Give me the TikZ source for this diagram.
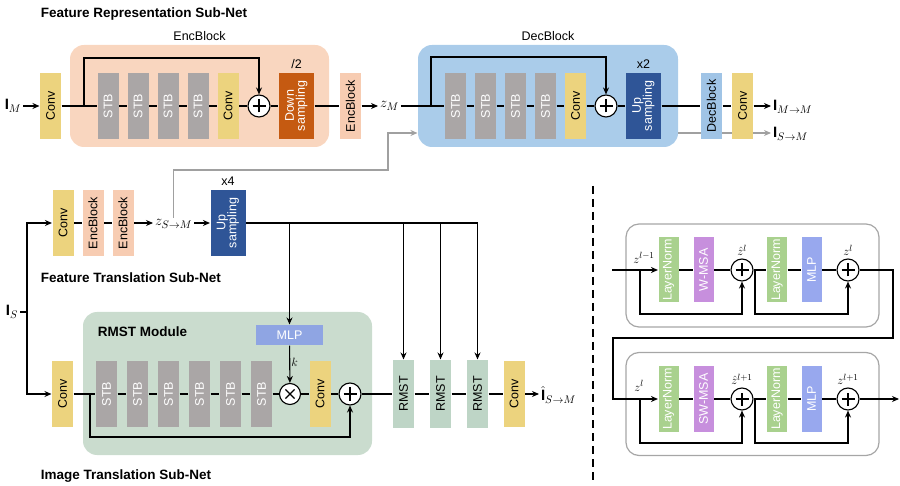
\documentclass[tikz,border=0pt]{standalone}
\usepackage{amsmath}
\usepackage{fontspec}
\setmainfont{Liberation Sans}
\usetikzlibrary{positioning, arrows.meta}

\definecolor{convyel}{RGB}{236,211,126}
\definecolor{stbgray}{RGB}{170,166,166}
\definecolor{encpeach}{RGB}{249,214,191}
\definecolor{encbox}{RGB}{247,204,178}
\definecolor{downorg}{RGB}{197,90,17}
\definecolor{decblue}{RGB}{170,204,234}
\definecolor{decbox}{RGB}{160,196,230}
\definecolor{updark}{RGB}{47,85,151}
\definecolor{rmstbg}{RGB}{202,220,206}
\definecolor{rmstbox}{RGB}{190,213,198}
\definecolor{mlpblue}{RGB}{143,165,227}
\definecolor{mlpvio}{RGB}{152,168,238}
\definecolor{lngreen}{RGB}{169,209,142}
\definecolor{msapurp}{RGB}{199,143,221}
\definecolor{panelgray}{RGB}{166,166,166}
\definecolor{linegray}{RGB}{160,160,160}

\newcommand{\vtext}[1]{\rotatebox{90}{#1}}
\newcommand{\vtwo}[2]{\rotatebox{90}{\begin{tabular}{@{}c@{}}#1\\[-3pt]#2\end{tabular}}}

\tikzset{
  blk/.style={rectangle, inner sep=0pt, minimum width=21pt, minimum height=66pt},
  conv/.style={blk, fill=convyel},
  stb/.style={blk, fill=stbgray, text=white},
  encb/.style={blk, fill=encbox},
  decb/.style={blk, fill=decbox},
  samp/.style={blk, minimum width=35pt, text=white},
  rmst/.style={blk, fill=rmstbox, minimum height=68pt},
  tblk/.style={blk, minimum width=20pt, minimum height=65pt, text=white},
  bgbox/.style={rectangle, rounded corners=14pt, inner sep=0pt},
  panel/.style={rectangle, rounded corners=13pt, draw=panelgray, line width=1.2pt,
    minimum width=253pt, minimum height=103pt},
  title/.style={font=\bfseries\fontsize{13.5}{16}\selectfont},
  mlabel/.style={font=\fontsize{15}{17}\selectfont, inner sep=1.5pt},
  zlabel/.style={font=\fontsize{13}{15}\selectfont, inner sep=1pt},
  opcirc/.style={circle, draw, line width=1.1pt, fill=white, minimum size=22pt, inner sep=0pt},
  plusop/.style={opcirc, path picture={
    \draw[line width=1.4pt] ([xshift=-6.5pt]path picture bounding box.center) -- ([xshift=6.5pt]path picture bounding box.center)
      ([yshift=-6.5pt]path picture bounding box.center) -- ([yshift=6.5pt]path picture bounding box.center);}},
  timesop/.style={opcirc, minimum size=21pt, path picture={
    \draw[line width=1.4pt] ([shift={(-4.6pt,-4.6pt)}]path picture bounding box.center) -- ([shift={(4.6pt,4.6pt)}]path picture bounding box.center)
      ([shift={(-4.6pt,4.6pt)}]path picture bounding box.center) -- ([shift={(4.6pt,-4.6pt)}]path picture bounding box.center);}},
  gline/.style={draw=linegray, line width=1.1pt},
  divider/.style={dashed, dash pattern=on 8pt off 5pt, line width=1.4pt},
}

\begin{document}
\begin{tikzpicture}[x=1pt, y=-1pt, >={Stealth[length=7pt, width=6pt]}, line width=1.1pt, node distance=30pt,
    font=\fontsize{12.5}{14}\selectfont]
    \useasboundingbox (0,0) rectangle (900,486);

    % Feature Representation Sub-Net
    \node[title, anchor=west] (t1) at (37,14) {Feature Representation Sub-Net};
    \node[bgbox, fill=encpeach, minimum width=259pt, minimum height=102pt, label=above:EncBlock] (encbg) at (199.5,96) {};
    \node[bgbox, fill=decblue, minimum width=260pt, minimum height=102pt, label=above:DecBlock] (decbg) at (548,96) {};

    \node[mlabel] (IM) at (13,106) {$\mathbf{I}_M$};
    \node[conv] (c1) at (50.5,106) {\vtext{Conv}};
    \node[stb] (es1) at (108,106) {\vtext{STB}};
    \node[stb, right of=es1] (es2) {\vtext{STB}};
    \node[stb, right of=es2] (es3) {\vtext{STB}};
    \node[stb, right of=es3] (es4) {\vtext{STB}};
    \node[conv, right of=es4] (ec) {\vtext{Conv}};
    \node[plusop] (ep) at (259,106) {};
    \node[samp, fill=downorg, label=above:/2] (down) at (296.5,106) {\vtwo{Down}{sampling}};
    \node[encb] (enc2) at (350.5,106) {\vtext{EncBlock}};
    \node[mlabel, anchor=west] (zM) at (378,106) {$z_M$};

    \node[stb] (ds1) at (455.5,106) {\vtext{STB}};
    \node[stb, right of=ds1] (ds2) {\vtext{STB}};
    \node[stb, right of=ds2] (ds3) {\vtext{STB}};
    \node[stb, right of=ds3] (ds4) {\vtext{STB}};
    \node[conv, right of=ds4] (dc) {\vtext{Conv}};
    \node[plusop] (dp) at (606,106) {};
    \node[samp, fill=updark, label=above:x2] (up2) at (643.5,106) {\vtwo{Up}{sampling}};

    \node[mlabel, anchor=west] (IMM) at (771,107) {$\mathbf{I}_{M\to M}$};
    \node[mlabel, anchor=west] (ISM) at (771,134) {$\mathbf{I}_{S\to M}$};
    \coordinate (gout) at (678,133);
    \draw[gline, ->] (gout) -- (gout -| ISM.west);
    \node[decb] (dec2) at (711.5,106) {\vtext{DecBlock}};
    \node[conv] (c4) at (742.5,106) {\vtext{Conv}};

    % Feature Translation Sub-Net
    \node[mlabel] (IS) at (12,312) {$\mathbf{I}_S$};
    \coordinate (sv) at (27,312);
    \node[conv] (c2) at (63,223) {\vtext{Conv}};
    \node[encb] (me1) at (93,223) {\vtext{EncBlock}};
    \node[encb, right of=me1] (me2) {\vtext{EncBlock}};
    \node[mlabel, anchor=west] (zSM) at (153,224) {$z_{S\to M}$};
    \node[samp, fill=updark, label=above:x4] (up4) at (228,223) {\vtwo{Up}{sampling}};
    \node[title, anchor=west] (t2) at (37,278) {Feature Translation Sub-Net};

    % Image Translation Sub-Net
    \node[bgbox, fill=rmstbg, minimum width=289pt, minimum height=143pt] (rmbg) at (227.5,383.5) {};
    \node[title, anchor=west] (t3) at (94,332) {RMST Module};
    \node[conv] (c3) at (62.5,394) {\vtext{Conv}};
    \node[stb] (rs1) at (106.5,394) {\vtext{STB}};
    \node[stb, node distance=31pt, right of=rs1] (rs2) {\vtext{STB}};
    \node[stb, node distance=31pt, right of=rs2] (rs3) {\vtext{STB}};
    \node[stb, node distance=31pt, right of=rs3] (rs4) {\vtext{STB}};
    \node[stb, node distance=31pt, right of=rs4] (rs5) {\vtext{STB}};
    \node[stb, node distance=31pt, right of=rs5] (rs6) {\vtext{STB}};
    \node[timesop] (rx) at (290,394) {};
    \node[rectangle, fill=mlpblue, text=white, minimum width=67pt, minimum height=20pt, inner sep=0pt] (mlp) at (289.5,335) {MLP};
    \node[conv] (rc) at (320,394) {\vtext{Conv}};
    \node[plusop] (rp) at (350,394) {};
    \node[rmst] (rm1) at (403.5,394) {\vtext{RMST}};
    \node[rmst] (rm2) at (440.5,394) {\vtext{RMST}};
    \node[rmst] (rm3) at (477.5,394) {\vtext{RMST}};
    \node[conv] (c5) at (514,394) {\vtext{Conv}};
    \node[mlabel, anchor=west] (ISMh) at (539,395) {$\hat{\mathbf{I}}_{S\to M}$};
    \node[title, anchor=west] (t4) at (37,476) {Image Translation Sub-Net};

    % Swin blocks
    \draw[divider] (593,186) -- (593,480);
    \node[panel] (pb1) at (752.5,275.5) {};
    \node[panel] (pb2) at (752.5,404) {};
    \node[tblk, fill=lngreen] (ln1) at (668.5,270) {\vtext{LayerNorm}};
    \node[tblk, fill=msapurp] (wm) at (703.5,270) {\vtext{W-MSA}};
    \node[plusop] (p1) at (742,270) {};
    \node[tblk, fill=lngreen] (ln2) at (777,270) {\vtext{LayerNorm}};
    \node[tblk, fill=mlpvio] (m1) at (811.5,270) {\vtext{MLP}};
    \node[plusop] (p2) at (848,270) {};
    \node[zlabel] (zl0) at (644,258) {$z^{l-1}$};
    \node[zlabel, above=1pt of p1] (zh1) {$\hat{z}^{l}$};
    \node[zlabel, above=1pt of p2] (zl1) {$z^{l}$};

    \node[tblk, fill=lngreen] (ln3) at (668.5,399) {\vtext{LayerNorm}};
    \node[tblk, fill=msapurp] (swm) at (703.5,399) {\vtext{SW-MSA}};
    \node[plusop] (p3) at (742,399) {};
    \node[tblk, fill=lngreen] (ln4) at (777,399) {\vtext{LayerNorm}};
    \node[tblk, fill=mlpvio] (m2) at (811.5,399) {\vtext{MLP}};
    \node[plusop] (p4) at (848,399) {};
    \node[zlabel] (zl2) at (639,386) {$z^{l}$};
    \node[zlabel, above=1pt of p3] (zh2) {$\hat{z}^{l+1}$};
    \node[zlabel, above=1pt of p4] (zl3) {$z^{l+1}$};

    % Encoder row
    \path[->] (IM) edge (c1);
    \path (c1) edge (es1) (es1) edge (es2) (es2) edge (es3) (es3) edge (es4)
        (es4) edge (ec) (ec) edge (ep) (ep) edge (down) (down) edge (enc2);
    \path[->] (enc2) edge (zM);
    \coordinate (eskA) at (84,106);
    \coordinate (eskB) at (84,58);
    \draw[->] (eskA) -- (eskB) -| (ep);

    % Decoder row
    \path (zM) edge (ds1) (ds1) edge (ds2) (ds2) edge (ds3) (ds3) edge (ds4)
        (ds4) edge (dc) (dc) edge (dp) (dp) edge (up2) (up2) edge (dec2) (dec2) edge (c4);
    \draw[->] (c4) -- (c4 -| IMM.west);
    \coordinate (dskA) at (431,106);
    \coordinate (dskB) at (431,57);
    \draw[->] (dskA) -- (dskB) -| (dp);

    % Translation row
    \draw (IS) -- (sv);
    \draw[->] (sv) |- (c2);
    \draw[->] (sv) |- (c3);
    \path (c2) edge (me1) (me1) edge (me2);
    \draw[->] (me2) -- (me2 -| zSM.west);
    \draw[->] (up4 -| zSM.east) -- (up4);
    \coordinate (g1) at (388,170);
    \coordinate (g2) at (388,133);
    \draw[gline, ->] (zSM.north) |- (g1) -- (g2) -- (decbg.west |- g2);
    \draw (up4) -- (rm3 |- up4);
    \draw[->] (mlp |- up4) -- (mlp);
    \draw[->] (rm1 |- up4) -- (rm1);
    \draw[->] (rm2 |- up4) -- (rm2);
    \draw[->] (rm3 |- up4) -- (rm3);

    % RMST row
    \path (c3) edge (rs1) (rs1) edge (rs2) (rs2) edge (rs3) (rs3) edge (rs4) (rs4) edge (rs5)
        (rs5) edge (rs6) (rs6) edge (rx) (rx) edge (rc) (rc) edge (rp) (rp) edge (rm1)
        (rm1) edge (rm2) (rm2) edge (rm3) (rm3) edge (c5);
    \draw[->] (c5) -- (c5 -| ISMh.west);
    \draw[->] (mlp) -- node[right, pos=.45, zlabel] {$k$} (rx);
    \coordinate (rskA) at (90,394);
    \coordinate (rskB) at (90,437);
    \draw[->] (rskA) -- (rskB) -| (rp);

    % Swin block connectors
    \coordinate (in1) at (612,270);
    \draw[->] (in1) -- (ln1);
    \path (ln1) edge (wm) (wm) edge (p1) (p1) edge (ln2) (ln2) edge (m1) (m1) edge (p2);
    \coordinate (k1A) at (640,270);
    \coordinate (k1B) at (640,314);
    \draw[->] (k1A) -- (k1B) -| (p1);
    \coordinate (k2A) at (755,270);
    \coordinate (k2B) at (755,314);
    \draw[->] (k2A) -- (k2B) -| (p2);
    \coordinate (o1) at (893,270);
    \coordinate (o2) at (893,338);
    \coordinate (o3) at (613,338);
    \draw[->] (p2) -- (o1) -- (o2) -- (o3) |- (ln3);
    \path (ln3) edge (swm) (swm) edge (p3) (p3) edge (ln4) (ln4) edge (m2) (m2) edge (p4);
    \coordinate (k3A) at (640,399);
    \coordinate (k3B) at (640,443);
    \draw[->] (k3A) -- (k3B) -| (p3);
    \coordinate (k4A) at (755,399);
    \coordinate (k4B) at (755,443);
    \draw[->] (k4A) -- (k4B) -| (p4);
    \coordinate (out2) at (899,399);
    \draw[->] (p4) -- (out2);
\end{tikzpicture}
\end{document}
